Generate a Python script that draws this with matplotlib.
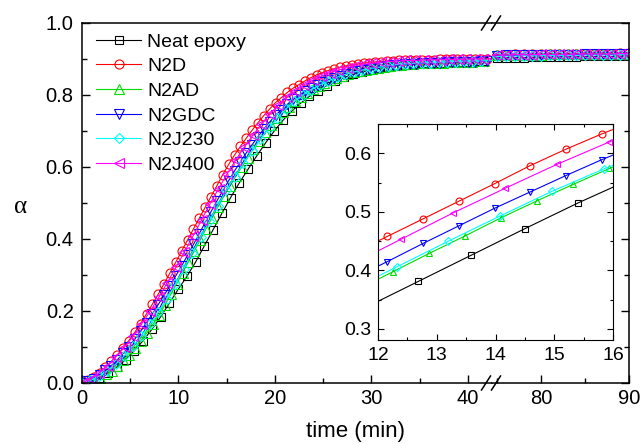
import numpy as np
import matplotlib
matplotlib.use("Agg")
import matplotlib.pyplot as plt
from matplotlib.ticker import MultipleLocator, FixedLocator

plt.rcParams['font.family'] = ['Liberation Sans', 'DejaVu Sans']
plt.rcParams['font.size'] = 14

# degree of cure alpha; each series has its own sampling step (min)
neat = [0.000, 0.005, 0.014, 0.027, 0.044, 0.065, 0.090, 0.118, 0.149, 0.184,
        0.222, 0.260, 0.296, 0.336, 0.381, 0.426, 0.471, 0.515, 0.556, 0.594,
        0.631, 0.667, 0.700, 0.730, 0.755, 0.777, 0.796, 0.812, 0.826, 0.838,
        0.849, 0.857, 0.864, 0.869, 0.874, 0.878, 0.881, 0.884, 0.886, 0.888,
        0.889, 0.890, 0.891, 0.892, 0.893, 0.894, 0.894]
n2d = [0.000, 0.007, 0.017, 0.029, 0.044, 0.060, 0.078, 0.098, 0.118, 0.141,
       0.165, 0.192, 0.219, 0.247, 0.276, 0.306, 0.336, 0.367, 0.397, 0.428,
       0.458, 0.488, 0.518, 0.548, 0.579, 0.607, 0.633, 0.657, 0.680, 0.702,
       0.723, 0.743, 0.761, 0.779, 0.793, 0.807, 0.819, 0.829, 0.839, 0.848,
       0.856, 0.862, 0.868, 0.873, 0.877, 0.881, 0.884, 0.886, 0.889, 0.890,
       0.892, 0.893, 0.894, 0.895, 0.896, 0.896, 0.897, 0.897, 0.898, 0.898,
       0.898, 0.899, 0.899, 0.899, 0.900, 0.900, 0.900, 0.901, 0.901, 0.901]
n2ad = [0.000, 0.004, 0.008, 0.015, 0.024, 0.034, 0.048, 0.063, 0.079, 0.098,
        0.118, 0.140, 0.163, 0.188, 0.216, 0.246, 0.276, 0.306, 0.337, 0.367,
        0.398, 0.429, 0.459, 0.490, 0.519, 0.547, 0.574, 0.600, 0.626, 0.650,
        0.673, 0.696, 0.716, 0.735, 0.753, 0.768, 0.782, 0.795, 0.806, 0.816,
        0.825, 0.834, 0.841, 0.848, 0.854, 0.859, 0.863, 0.867, 0.870, 0.873,
        0.876, 0.878, 0.880, 0.882, 0.884, 0.885, 0.887, 0.888, 0.888, 0.889,
        0.890, 0.890, 0.891, 0.892, 0.892, 0.893, 0.893, 0.894, 0.894]
n2gdc = [0.000, 0.005, 0.012, 0.022, 0.035, 0.048, 0.064, 0.082, 0.101, 0.122,
         0.144, 0.168, 0.192, 0.218, 0.244, 0.270, 0.298, 0.326, 0.355, 0.385,
         0.415, 0.446, 0.476, 0.506, 0.534, 0.562, 0.589, 0.614, 0.639, 0.662,
         0.684, 0.706, 0.725, 0.744, 0.759, 0.774, 0.788, 0.799, 0.810, 0.819,
         0.827, 0.835, 0.842, 0.848, 0.854, 0.859, 0.863, 0.866, 0.870, 0.873,
         0.876, 0.878, 0.880, 0.882, 0.883, 0.885, 0.886, 0.887, 0.888, 0.889,
         0.889, 0.890, 0.891, 0.891, 0.892, 0.892, 0.893, 0.893, 0.894, 0.894]
n2j230 = [0.000, 0.007, 0.019, 0.034, 0.053, 0.076, 0.102, 0.131, 0.163, 0.197,
          0.234, 0.275, 0.318, 0.362, 0.406, 0.450, 0.493, 0.535, 0.573, 0.610,
          0.644, 0.677, 0.708, 0.736, 0.761, 0.782, 0.800, 0.815, 0.828, 0.839,
          0.849, 0.857, 0.864, 0.869, 0.874, 0.877, 0.881, 0.884, 0.886, 0.888,
          0.889, 0.890, 0.891, 0.892, 0.893, 0.894, 0.894, 0.895]
n2j400 = [0.000, 0.011, 0.027, 0.048, 0.073, 0.100, 0.130, 0.164, 0.200, 0.238,
          0.279, 0.321, 0.364, 0.408, 0.453, 0.498, 0.540, 0.581, 0.619, 0.655,
          0.688, 0.719, 0.747, 0.772, 0.794, 0.812, 0.828, 0.841, 0.852, 0.862,
          0.869, 0.876, 0.881, 0.885, 0.888, 0.891, 0.893, 0.894, 0.896, 0.896,
          0.897, 0.898, 0.898, 0.899, 0.899, 0.900, 0.900, 0.900]
steps = [0.906, 0.608, 0.613, 0.608, 0.88, 0.885]

# late part, 75-90 min
t_tail = np.arange(75, 90.5, 1.0)
neat_tail = [0.903, 0.903, 0.904, 0.904, 0.905, 0.905, 0.905, 0.906, 0.906, 0.906, 0.907, 0.907, 0.907, 0.907, 0.908, 0.908]
n2d_tail = [0.912, 0.912, 0.913, 0.913, 0.913, 0.914, 0.914, 0.914, 0.914, 0.915, 0.915, 0.915, 0.915, 0.915, 0.916, 0.916]
n2ad_tail = [0.910, 0.911, 0.911, 0.912, 0.912, 0.912, 0.913, 0.913, 0.913, 0.913, 0.914, 0.914, 0.914, 0.914, 0.915, 0.915]
n2gdc_tail = [0.909, 0.910, 0.910, 0.911, 0.911, 0.911, 0.912, 0.912, 0.912, 0.912, 0.913, 0.913, 0.913, 0.913, 0.914, 0.914]
n2j230_tail = [0.907, 0.908, 0.908, 0.909, 0.909, 0.909, 0.910, 0.910, 0.910, 0.910, 0.911, 0.911, 0.911, 0.911, 0.912, 0.912]
n2j400_tail = [0.911, 0.911, 0.912, 0.912, 0.912, 0.913, 0.913, 0.913, 0.913, 0.914, 0.914, 0.914, 0.914, 0.914, 0.915, 0.915]

labels = ['Neat epoxy', 'N2D', 'N2AD', 'N2GDC', 'N2J230', 'N2J400']
colors = ['black', 'red', '#00dd00', 'blue', 'cyan', 'magenta']
markers = ['s', 'o', '^', 'v', 'D', '<']
msizes = [5.5, 6.5, 6.5, 6.5, 5.5, 6.5]
heads = [neat, n2d, n2ad, n2gdc, n2j230, n2j400]
tails = [neat_tail, n2d_tail, n2ad_tail, n2gdc_tail, n2j230_tail, n2j400_tail]

W, H = 643, 444
fig = plt.figure(figsize=(W / 100, H / 100), dpi=100)


def fx(px):
    return px / W


def fy(py):
    return 1 - py / H


x_left, x_brk, x_right, y_top, y_bot = 82, 492, 629, 23, 383
ax1 = fig.add_axes([fx(x_left), fy(y_bot), fx(x_brk - x_left), (y_bot - y_top) / H])
ax2 = fig.add_axes([fx(x_brk), fy(y_bot), fx(x_right - x_brk), (y_bot - y_top) / H], sharey=ax1)
axin = fig.add_axes([fx(378), fy(340), fx(613 - 378), (340 - 124) / H])

for i in range(6):
    t = np.concatenate([np.arange(len(heads[i])) * steps[i], t_tail])
    y = np.concatenate([heads[i], tails[i]])
    for ax in (ax1, ax2):
        ax.plot(t, y, color=colors[i], lw=0.8, marker=markers[i], ms=msizes[i],
                mfc='none', mec=colors[i], mew=0.8, label=labels[i])
    axin.plot(t, y, color=colors[i], lw=0.8, marker=markers[i],
              ms=4.2 if markers[i] in 'sD' else 5, mfc='none', mec=colors[i], mew=0.8)

ax1.set_xlim(0, 42.5)
ax2.set_xlim(74.4, 90)
ax1.set_ylim(0, 1.0)
axin.set_xlim(12, 16)
axin.set_ylim(0.281, 0.65)

ax1.spines['right'].set_visible(False)
ax2.spines['left'].set_visible(False)
for ax in (ax1, ax2):
    for s in ax.spines.values():
        s.set_linewidth(1.1)
for s in axin.spines.values():
    s.set_linewidth(0.8)

ax1.xaxis.set_major_locator(MultipleLocator(10))
ax1.xaxis.set_minor_locator(MultipleLocator(5))
ax2.xaxis.set_major_locator(FixedLocator([80, 90]))
ax2.xaxis.set_minor_locator(FixedLocator([75, 85]))
ax1.yaxis.set_major_locator(MultipleLocator(0.2))
ax1.yaxis.set_minor_locator(MultipleLocator(0.1))
ax1.yaxis.set_major_formatter(matplotlib.ticker.FormatStrFormatter('%.1f'))

for ax in (ax1, ax2):
    ax.tick_params(which='both', direction='in', width=1.0, pad=4, labelsize=14.5)
    ax.tick_params(which='major', length=6)
    ax.tick_params(which='minor', length=3.5)
ax1.tick_params(axis='y', which='both', pad=6)
ax2.tick_params(which='both', left=False, right=True, labelleft=False, labelright=False)

axin.xaxis.set_major_locator(MultipleLocator(1))
axin.xaxis.set_minor_locator(MultipleLocator(0.5))
axin.yaxis.set_major_locator(MultipleLocator(0.1))
axin.yaxis.set_minor_locator(MultipleLocator(0.05))
axin.yaxis.set_major_formatter(matplotlib.ticker.FormatStrFormatter('%.1f'))
axin.tick_params(which='both', direction='in', width=0.8, top=True, right=True, pad=5, labelsize=14)
axin.tick_params(which='major', length=4)
axin.tick_params(which='minor', length=2.5)

ax1.set_ylabel('α', rotation=0, fontsize=18, family=['Liberation Serif', 'DejaVu Serif'],
               va='center', ha='center')
ax1.yaxis.set_label_coords(-0.151, 0.49)
fig.text(fx((x_left + x_right) / 2), fy(431), 'time (min)', ha='center', va='center', fontsize=16)

ax1.legend(loc='upper left', bbox_to_anchor=(0.035, 0.972), frameon=False, borderpad=0,
           handlelength=2.3, handletextpad=0.3, labelspacing=0.36, borderaxespad=0, fontsize=14)

# break marks on the x axis
for yb in (y_top, y_bot):
    for xb in (486, 496):
        fig.add_artist(plt.Line2D([fx(xb - 4.5), fx(xb + 4.5)], [fy(yb + 7), fy(yb - 7)],
                                  color='black', lw=1.1, transform=fig.transFigure))

fig.savefig('out.png', dpi=100)
